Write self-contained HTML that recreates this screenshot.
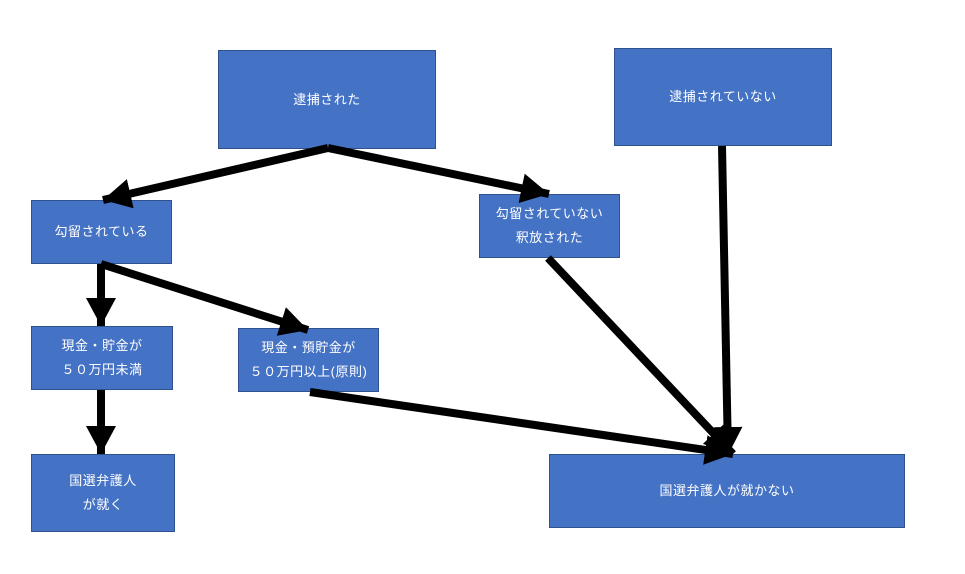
<!DOCTYPE html>
<html><head><meta charset="utf-8"><style>
html,body{margin:0;padding:0;background:#fff;}
body{width:965px;height:574px;position:relative;overflow:hidden;font-family:"Liberation Sans","Noto Sans CJK JP",sans-serif;}
.b{position:absolute;background:#4472C4;border:1px solid #2F528F;box-sizing:border-box;color:#fff;font-size:13px;line-height:24px;display:flex;align-items:center;justify-content:center;text-align:center;letter-spacing:0.5px;}
svg{position:absolute;left:0;top:0;}
</style></head><body>
<div class="b" style="left:218px;top:50px;width:218px;height:99px;">逮捕された</div>
<div class="b" style="left:614px;top:48px;width:218px;height:98px;">逮捕されていない</div>
<div class="b" style="left:31px;top:200px;width:141px;height:64px;">勾留されている</div>
<div class="b" style="left:479px;top:194px;width:141px;height:64px;">勾留されていない<br>釈放された</div>
<div class="b" style="left:31px;top:326px;width:142px;height:64px;">現金・貯金が<br>５０万円未満</div>
<div class="b" style="left:238px;top:328px;width:141px;height:64px;">現金・預貯金が<br>５０万円以上(原則)</div>
<div class="b" style="left:31px;top:454px;width:144px;height:78px;">国選弁護人<br>が就く</div>
<div class="b" style="left:549px;top:454px;width:356px;height:74px;">国選弁護人が就かない</div>
<svg width="965" height="574">
<defs><marker id="a" markerUnits="userSpaceOnUse" markerWidth="34" markerHeight="34" refX="28" refY="15" orient="auto"><path d="M0,0 L28,15 L0,30 Z" fill="#000"/></marker></defs>
<g stroke="#000" stroke-width="8" fill="none">
<line x1="328" y1="148" x2="103" y2="200" marker-end="url(#a)"/>
<line x1="328" y1="148" x2="549" y2="194" marker-end="url(#a)"/>
<line x1="101" y1="264" x2="101" y2="326" marker-end="url(#a)"/>
<line x1="101" y1="264" x2="308" y2="330" marker-end="url(#a)"/>
<line x1="101" y1="390" x2="101" y2="454" marker-end="url(#a)"/>
<line x1="310" y1="392" x2="733" y2="454" marker-end="url(#a)"/>
<line x1="548" y1="258" x2="733" y2="454" marker-end="url(#a)"/>
<line x1="722" y1="146" x2="728" y2="455" marker-end="url(#a)"/>
</g></svg>
</body></html>
